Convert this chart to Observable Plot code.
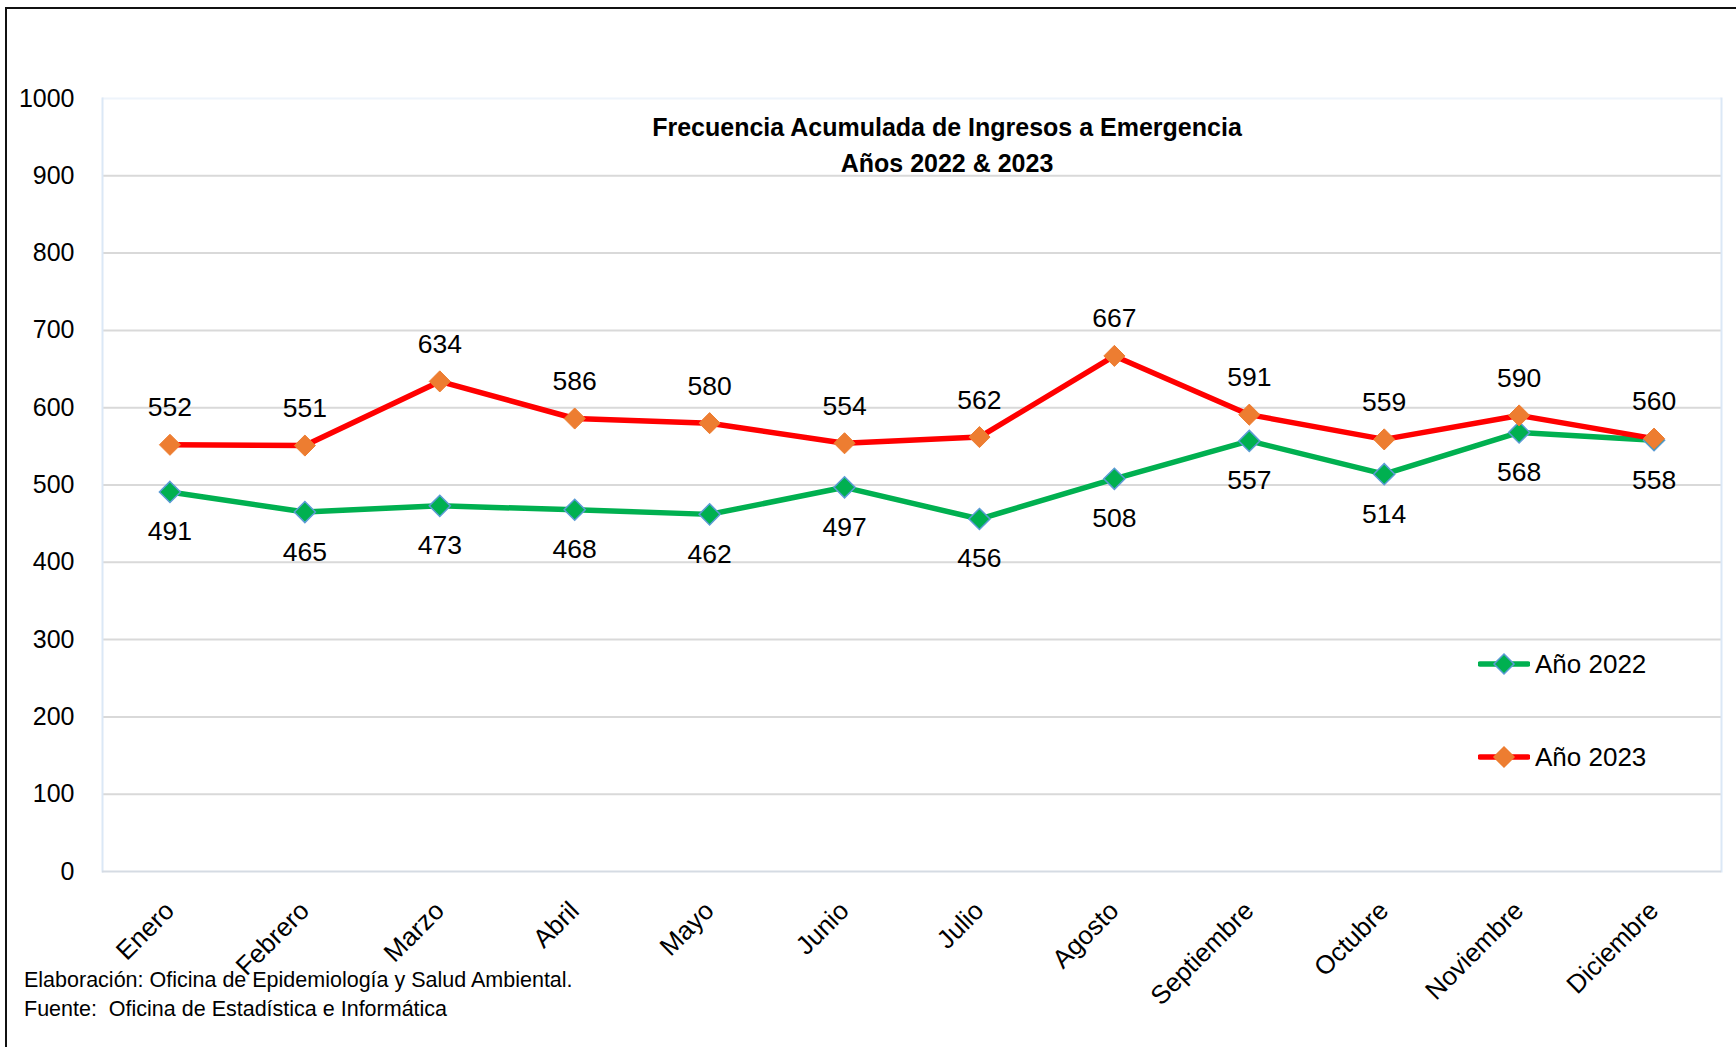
<!DOCTYPE html>
<html><head><meta charset="utf-8">
<script src="https://cdn.jsdelivr.net/npm/d3@7"></script>
<script src="https://cdn.jsdelivr.net/npm/@observablehq/plot@0.6"></script>
<style>
body{margin:0;background:#fff;font-family:"Liberation Sans",Arial,sans-serif;color:#000;}
#wrap{position:relative;width:1736px;height:1047px;overflow:hidden;background:#fff;}
#frame{position:absolute;left:5px;top:7px;width:1760px;height:1100px;border-top:2px solid #111;border-left:2px solid #111;pointer-events:none;}
#chart{position:absolute;left:0;top:0;}
.title{position:absolute;left:947px;transform:translateX(-50%);text-align:center;font-weight:bold;font-size:25px;white-space:nowrap;}
.legend{position:absolute;left:1478px;font-size:26px;display:flex;align-items:center;white-space:nowrap;}
.legend svg{margin-right:5px;}
.foot{position:absolute;left:24px;font-size:21.5px;white-space:pre;}
</style>
</head><body>
<div id="wrap">
  <div id="chart"></div>
  <div class="title" style="top:113px;">Frecuencia Acumulada de Ingresos a Emergencia</div>
  <div class="title" style="top:149px;">Años 2022 &amp; 2023</div>
  <div id="legend"></div>
  <div class="foot" style="top:968px;">Elaboración: Oficina de Epidemiología y Salud Ambiental.</div>
  <div class="foot" style="top:997px;">Fuente:  Oficina de Estadística e Informática</div>
  <div id="frame"></div>
</div>
<script>
const months = ["Enero","Febrero","Marzo","Abril","Mayo","Junio","Julio","Agosto","Septiembre","Octubre","Noviembre","Diciembre"];
const values2022 = [491,465,473,468,462,497,456,508,557,514,568,558];
const values2023 = [552,551,634,586,580,554,562,667,591,559,590,560];
const yTicks = [0,100,200,300,400,500,600,700,800,900,1000];
const seriesNames = ["Año 2022","Año 2023"];

const colors = {
  line2022:"#00b050", fill2022:"#00b050", stroke2022:"#5b9bd5",
  line2023:"#ff0000", fill2023:"#ed7d31", stroke2023:"#ed7d31"
};

const d2022 = months.map((m,i)=>({month:m, value:values2022[i]}));
const d2023 = months.map((m,i)=>({month:m, value:values2023[i]}));

const chart = Plot.plot({
  width:1736, height:1047,
  marginLeft:102, marginRight:15, marginTop:98, marginBottom:176,
  style:{fontFamily:'"Liberation Sans", Arial, sans-serif', fontSize:"25px", color:"#000", background:"transparent", overflow:"visible"},
  x:{type:"point", domain:months, padding:0.5, round:false, label:null},
  y:{domain:[0,1000], label:null},
  marks:[
    Plot.ruleY(yTicks.filter(d=>d>0 && d<1000), {stroke:"#d9d9d9", strokeWidth:2}),
    Plot.ruleY([1000], {stroke:"#eef4fb", strokeWidth:2}),
    Plot.frame({stroke:"#dbe8f6", strokeWidth:2, anchor:"left"}),
    Plot.frame({stroke:"#dbe8f6", strokeWidth:2, anchor:"right"}),
    Plot.ruleY([0], {stroke:"#d5dbe3", strokeWidth:2}),
    Plot.axisY({ticks:yTicks, tickFormat:d=>String(d), tickSize:0, tickPadding:28, fontSize:25}),
    Plot.axisX({tickSize:0, tickRotate:-45, tickPadding:35, dx:0, fontSize:26}),
    Plot.line(d2022, {x:"month", y:"value", stroke:colors.line2022, strokeWidth:5.5}),
    Plot.line(d2023, {x:"month", y:"value", stroke:colors.line2023, strokeWidth:5.5}),
    Plot.dot(d2022, {x:"month", y:"value", symbol:"diamond2", r:9.5, fill:colors.fill2022, stroke:colors.stroke2022, strokeWidth:1.5}),
    Plot.dot(d2023, {x:"month", y:"value", symbol:"diamond2", r:9.5, fill:colors.fill2023, stroke:colors.stroke2023, strokeWidth:1}),
    Plot.text(d2022, {x:"month", y:"value", text:d=>String(d.value), dy:40, fontSize:26.5}),
    Plot.text(d2023, {x:"month", y:"value", text:d=>String(d.value), dy:-37, fontSize:26.5})
  ]
});
document.getElementById("chart").appendChild(chart);

// Legend
const legend = document.getElementById("legend");
const legendItems = [
  {name:seriesNames[0], line:colors.line2022, fill:colors.fill2022, stroke:colors.stroke2022, top:664},
  {name:seriesNames[1], line:colors.line2023, fill:colors.fill2023, stroke:colors.stroke2023, top:757}
];
for (const it of legendItems) {
  const div = document.createElement("div");
  div.className = "legend";
  div.style.top = (it.top - 16) + "px";
  div.innerHTML = `<svg width="52" height="32" viewBox="0 0 52 32"><line x1="2" x2="50" y1="16" y2="16" stroke="${it.line}" stroke-width="5.5" stroke-linecap="round"/><path d="M26 6 L36 16 L26 26 L16 16 Z" fill="${it.fill}" stroke="${it.stroke}" stroke-width="1.5"/></svg><span>${it.name}</span>`;
  legend.appendChild(div);
}
</script>
</body></html>
